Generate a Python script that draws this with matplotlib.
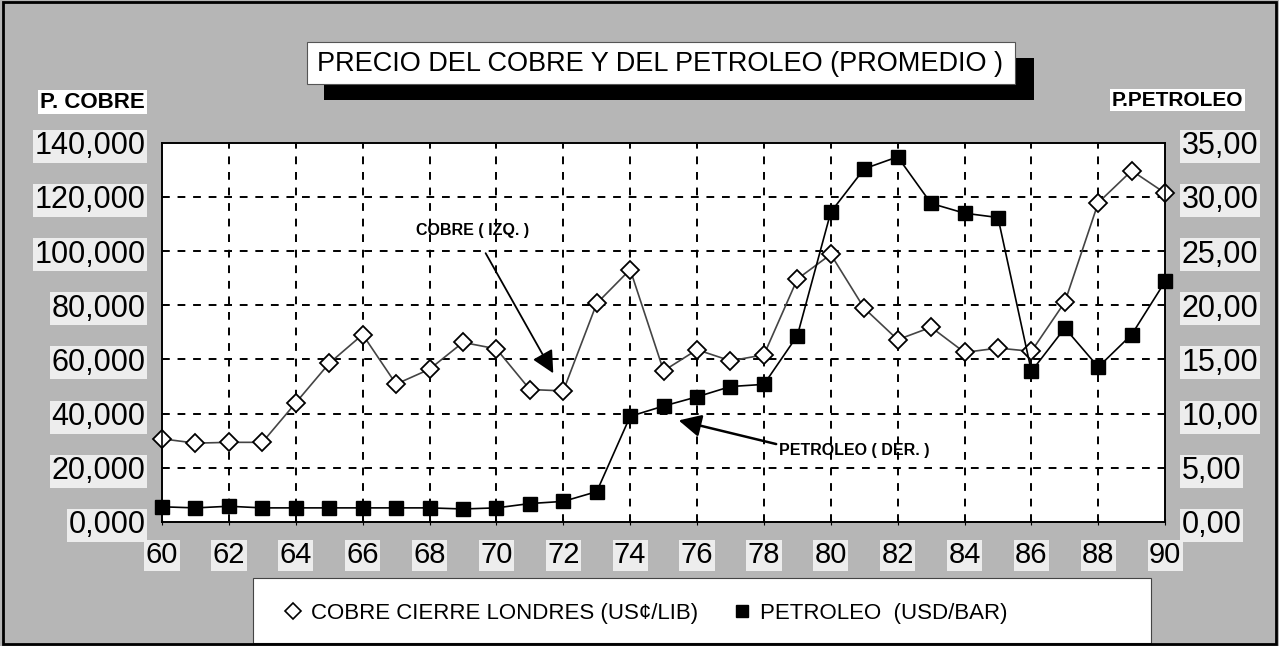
import matplotlib.pyplot as plt
import matplotlib.patches as mpatches
from matplotlib.lines import Line2D
import numpy as np

plt.rcParams['font.family'] = ['Liberation Sans', 'DejaVu Sans']

# years 1960..1990
years = list(range(60, 91))

# copper, London close (US cents / lb)
cobre = [30.7, 29.1, 29.4, 29.4, 44.0, 58.6, 69.2, 50.9, 56.4, 66.3,
         63.9, 48.9, 48.4, 80.7, 93.2, 55.8, 63.6, 59.5, 61.7, 89.7,
         98.8, 78.9, 67.3, 71.9, 62.6, 64.2, 63.0, 81.2, 117.9, 129.7,
         121.4]

# oil (USD / barrel)
petroleo = [1.4, 1.3, 1.45, 1.3, 1.3, 1.3, 1.3, 1.3, 1.3, 1.2,
            1.3, 1.7, 1.9, 2.8, 9.75, 10.7, 11.55, 12.5, 12.7, 17.2,
            28.6, 32.6, 33.7, 29.4, 28.5, 28.1, 13.9, 17.9, 14.3, 17.3,
            22.2]

left_ticks = [0, 20, 40, 60, 80, 100, 120, 140]
right_ticks = [0, 5, 10, 15, 20, 25, 30, 35]
x_ticks = list(range(60, 91, 2))

bg = '#b6b6b6'
fig = plt.figure(figsize=(12.79, 6.46), dpi=100, facecolor=bg)
ax1 = fig.add_axes([0.1267, 0.192, 0.911 - 0.1267, 0.779 - 0.192])
ax2 = ax1.twinx()

ax1.set_facecolor('white')
ax1.set_xlim(60, 90)
ax1.set_ylim(0, 140)
ax2.set_ylim(0, 35)

# dashed grid
for x in x_ticks[1:-1]:
    ax1.axvline(x, color='black', lw=1.4, ls=(0, (4, 4)), zorder=1)
for y in left_ticks[1:-1]:
    ax1.axhline(y, color='black', lw=1.4, ls=(0, (4, 4)), zorder=1)

ax1.plot(years, cobre, color='#444444', lw=1.2, marker='D', markersize=9.5,
         markerfacecolor='white', markeredgecolor='black', markeredgewidth=1.3,
         zorder=3, clip_on=False)
ax2.plot(years, petroleo, color='black', lw=1.2, marker='s', markersize=10.5,
         markerfacecolor='black', markeredgecolor='black', zorder=4,
         clip_on=False)

lbl_box = dict(boxstyle='square,pad=0.08', facecolor='white', edgecolor='none')

ax1.set_xticks(x_ticks)
ax1.set_xticklabels([str(x) for x in x_ticks], fontsize=21)
ax1.set_yticks(left_ticks)
ax1.set_yticklabels([f'{v},000' for v in left_ticks], fontsize=22)
ax2.set_yticks(right_ticks)
ax2.set_yticklabels([f'{v},00' for v in right_ticks], fontsize=22)
ax1.tick_params(axis='x', length=4, pad=12, direction='inout')
ax1.tick_params(axis='y', length=0, pad=12)
ax2.tick_params(axis='y', length=0, pad=12)
for t in ax1.get_yticklabels() + ax2.get_yticklabels() + ax1.get_xticklabels():
    t.set_bbox(dict(boxstyle='square,pad=0.05', facecolor='#ededed', edgecolor='none'))

for sp in list(ax1.spines.values()) + list(ax2.spines.values()):
    sp.set_color('black')
    sp.set_linewidth(1.2)

# axis titles
fig.text(40 / 1279, 1 - 102 / 646, 'P. COBRE', fontsize=16, fontweight='bold',
         va='center', ha='left', bbox=lbl_box)
fig.text(1243 / 1279, 1 - 100 / 646, 'P.PETROLEO', fontsize=15, fontweight='bold',
         va='center', ha='right', bbox=lbl_box)

# title box with black shadow
fig.patches.append(mpatches.Rectangle((324 / 1279, 1 - 100 / 646), (1034 - 324) / 1279,
                                      (100 - 58) / 646, transform=fig.transFigure,
                                      facecolor='black', edgecolor='none', zorder=1))
fig.patches.append(mpatches.Rectangle((307 / 1279, 1 - 84 / 646), (1015 - 307) / 1279,
                                      (84 - 42) / 646, transform=fig.transFigure,
                                      facecolor='white', edgecolor='#555555', lw=0.8,
                                      zorder=2))
fig.text(660 / 1279, 1 - 64 / 646, 'PRECIO DEL COBRE Y DEL PETROLEO (PROMEDIO )',
         fontsize=19.5, ha='center', va='center', zorder=3)

# annotations
ax1.annotate('COBRE ( IZQ. )', xy=(71.7, 54.9), xytext=(69.3, 107.5),
             fontsize=11.5, fontweight='bold', ha='center', va='center',
             arrowprops=dict(arrowstyle='-|>', color='black', lw=1.3,
                             mutation_scale=34, shrinkA=10, shrinkB=0))
ax1.annotate('PETROLEO ( DER. )', xy=(75.45, 37.5), xytext=(80.7, 26.3),
             fontsize=11.5, fontweight='bold', ha='center', va='center',
             arrowprops=dict(arrowstyle='-|>', color='black', lw=1.8,
                             mutation_scale=34, shrinkA=0, shrinkB=0,
                             relpos=(0.0, 0.9)), zorder=5)

# legend in a white box
fig.patches.append(mpatches.Rectangle((253 / 1279, 1 - 643 / 646), (1151 - 253) / 1279,
                                      (643 - 578) / 646, transform=fig.transFigure,
                                      facecolor='white', edgecolor='#444444', lw=0.8))
handles = [Line2D([], [], ls='none', marker='D', markersize=8, markerfacecolor='white',
                  markeredgecolor='black', markeredgewidth=1.2),
           Line2D([], [], ls='none', marker='s', markersize=9, color='black')]
fig.legend(handles, ['COBRE CIERRE LONDRES (US¢/LIB)', 'PETROLEO  (USD/BAR)'],
           loc='center left', bbox_to_anchor=(264 / 1279, 1 - 613 / 646), ncol=2,
           frameon=False, fontsize=16, handlelength=0.8, handletextpad=0.4,
           columnspacing=1.6)

# outer frame
fig.patches.append(mpatches.Rectangle((0.002, 0.003), 0.996, 0.994,
                                      transform=fig.transFigure, facecolor='none',
                                      edgecolor='black', lw=2))

fig.savefig('out.png', dpi=100, facecolor=bg)
